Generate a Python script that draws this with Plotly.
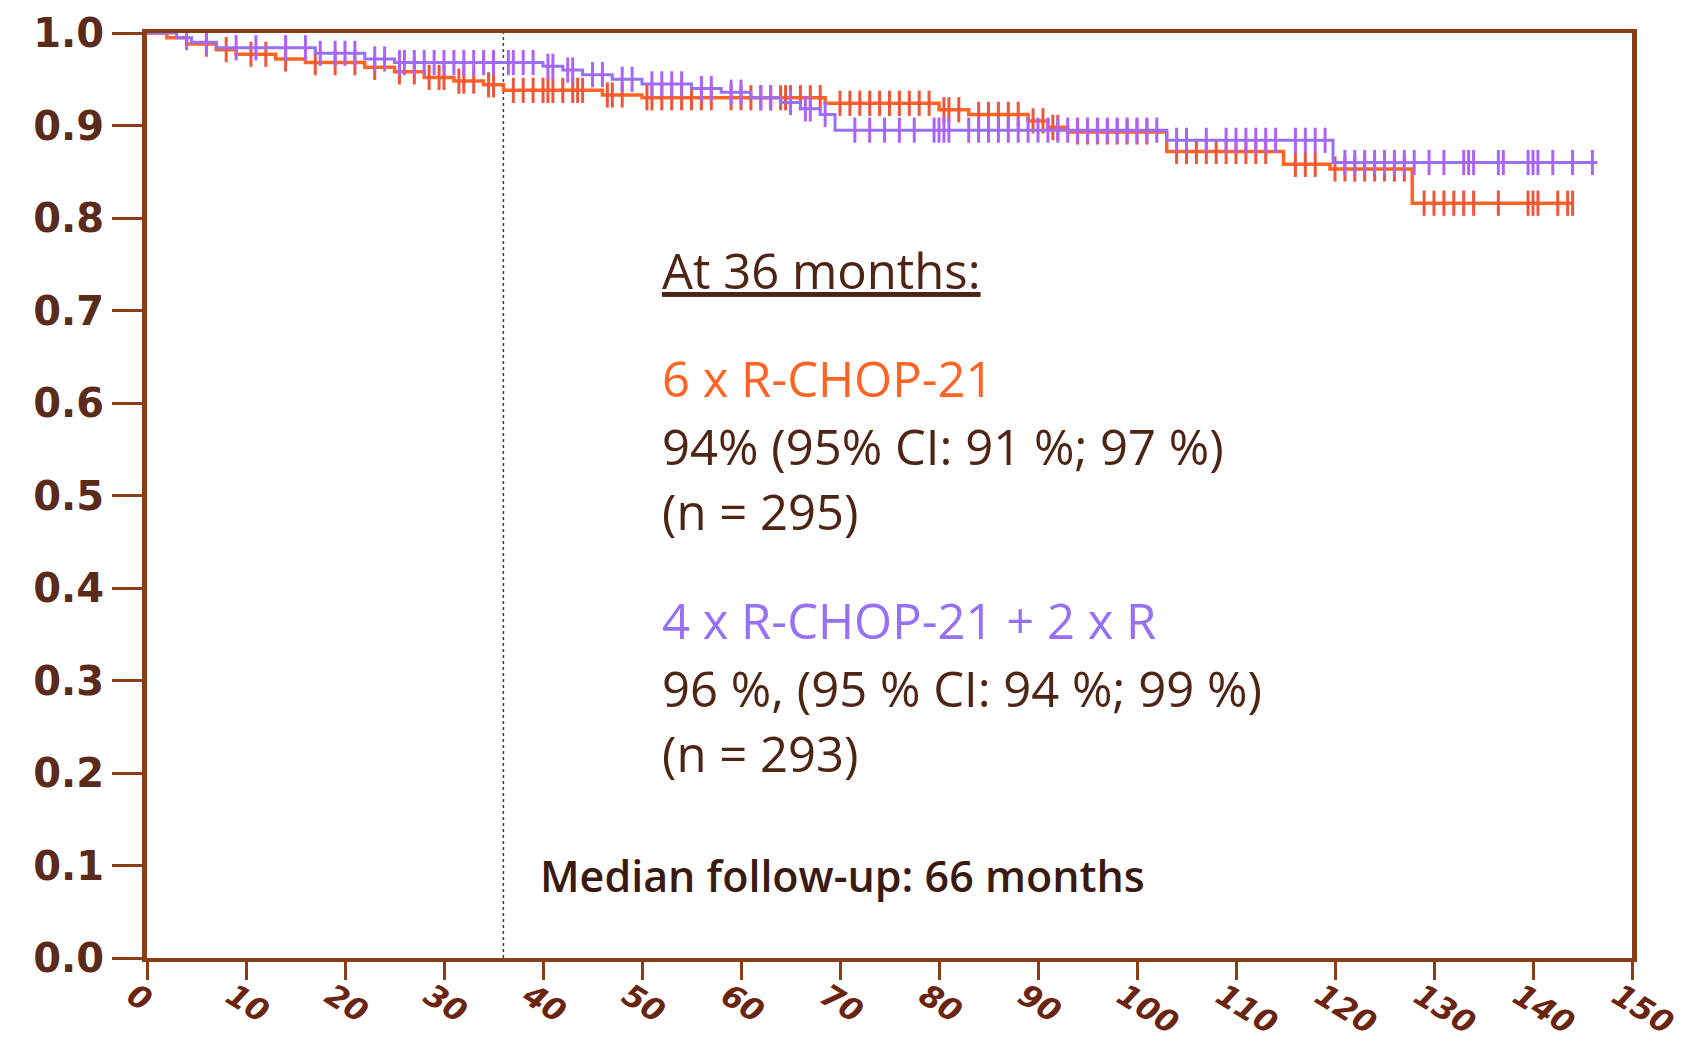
import numpy as np
import plotly.graph_objects as go

# ---------------- data ----------------
arm_a_name = "6 x R-CHOP-21"
arm_a_times = [0, 2, 4, 7, 9, 13, 16, 22, 25, 28, 31, 34, 36, 46, 50, 68.5, 80, 83, 89, 91, 93, 103, 114.8, 119.5, 127.8]
arm_a_surv = [1.0, 0.995, 0.988, 0.982, 0.977, 0.972, 0.968, 0.963, 0.958, 0.952, 0.948, 0.944, 0.938, 0.933, 0.930, 0.924, 0.917, 0.912, 0.905, 0.898, 0.893, 0.872, 0.858, 0.853, 0.816]
arm_a_end = 144
arm_a_censor = [6, 8, 10.5, 12, 14, 17, 19, 21, 23, 25.5, 27, 28.5, 29.5, 30, 31.5, 32, 33, 34.5, 35, 37, 38, 39, 40, 40.5, 41, 42, 43, 43.5, 44, 46.5,
                47, 48, 50.5, 51, 52, 53, 54, 55, 56, 57, 59, 60, 61, 62, 63, 64, 64.5, 65, 66, 67, 68, 70, 71, 72, 73, 74, 75, 76, 77, 78, 79,
                80.5, 81, 82, 84, 85, 86, 87, 88, 89.5, 90.5, 91.5, 92, 94, 95, 96, 97, 98, 99, 100, 101, 104, 105, 106, 107, 108, 109, 110,
                111, 112, 113, 116, 117, 118, 120, 121, 122, 123, 124, 125, 126, 127, 129, 130, 131, 132, 133, 134, 136.5, 139.5, 140, 140.5,
                142.5, 143.5, 144]

arm_b_name = "4 x R-CHOP-21 + 2 x R"
arm_b_times = [0, 3, 4.5, 7, 17, 22, 25, 40, 42, 44, 47, 50, 55, 58, 61, 64, 66, 68, 69.5, 103, 119.8]
arm_b_surv = [1.0, 0.995, 0.99, 0.984, 0.978, 0.972, 0.968, 0.964, 0.960, 0.955, 0.950, 0.945, 0.940, 0.936, 0.930, 0.925, 0.918, 0.912, 0.895, 0.884, 0.860]
arm_b_end = 146.5
arm_b_censor = [4, 6, 9, 11, 14, 16, 17.5, 19, 20, 21, 23, 24, 25.5, 26, 27, 28, 29, 30, 31, 32, 33, 34, 35, 36.5, 37, 38, 39, 40.5, 41, 42.5,
                43, 45, 46, 48, 49, 51, 52, 53, 54, 56, 57, 59, 60, 62, 63, 65, 66.5, 67, 68.5, 71.5, 73, 74.5, 76, 77.5, 79.5, 80, 80.5, 81,
                83, 84, 85, 86, 87, 88, 89, 90, 91, 92, 93, 94, 95, 96, 97, 98, 99, 100, 101, 102, 104, 105, 107, 109, 110, 111, 112, 113,
                114, 116, 117, 118, 119, 121, 122, 123, 124, 125, 126, 127, 128, 129.5, 131, 133, 133.5, 134, 136.5, 137, 139.5, 140,
                140.5, 142, 144, 146]

x_ticks = list(range(0, 151, 10))
y_ticks = [round(0.1 * i, 1) for i in range(11)]
followup_month = 36

# ---------------- styles ----------------
ORANGE = "#FF6424"
PURPLE = "#9670F5"
PURPLE_TICK = "#6E52D8"
ORANGE_TICK = "#F0521A"
AXIS = "#8A3E16"
TEXT = "#4E2414"
FONT = "Open Sans"


def step_xy(times, surv, end):
    return list(times) + [end], list(surv) + [surv[-1]]


def surv_at(times, surv, t):
    idx = np.searchsorted(np.asarray(times), np.asarray(t), side="right") - 1
    return np.asarray(surv)[idx]


fig = go.Figure()

for times, surv, end, censor, col, tcol, name, lw in [
    (arm_a_times, arm_a_surv, arm_a_end, arm_a_censor, ORANGE, ORANGE_TICK, arm_a_name, 3.5),
    (arm_b_times, arm_b_surv, arm_b_end, arm_b_censor, PURPLE, PURPLE_TICK, arm_b_name, 3),
]:
    sx, sy = step_xy(times, surv, end)
    fig.add_trace(go.Scatter(x=sx, y=sy, mode="lines", line=dict(color=col, width=lw, shape="hv"),
                             name=name, showlegend=False, hoverinfo="skip", cliponaxis=False))
    fig.add_trace(go.Scatter(x=censor, y=surv_at(times, surv, censor), mode="markers",
                             marker=dict(symbol="line-ns-open", size=18, line=dict(color=tcol, width=3)),
                             name=name + " censored", showlegend=False, hoverinfo="skip"))

# dotted vertical line at 36 months
fig.add_shape(type="line", x0=followup_month, x1=followup_month, y0=0, y1=1, xref="x", yref="y",
              line=dict(color="#34405A", width=1.5, dash="dot"), layer="below")

ann = [
    ("<u>At 36 months:</u>", 0.744, TEXT),
    (arm_a_name, 0.627, ORANGE),
    ("94% (95% CI: 91 %; 97 %)", 0.554, TEXT),
    ("(n = 295)", 0.483, TEXT),
    (arm_b_name, 0.365, PURPLE),
    ("96 %, (95 % CI: 94 %; 99 %)", 0.292, TEXT),
    ("(n = 293)", 0.222, TEXT),
]
for txt, yv, col in ann:
    fig.add_annotation(x=51.8, y=yv, xref="x", yref="y", text=txt, showarrow=False,
                       xanchor="left", yanchor="middle", font=dict(family=FONT, size=49, color=col))

fig.add_annotation(x=39.5, y=0.089, xref="x", yref="y", text="Median follow-up: 66 months", showarrow=False,
                   xanchor="left", yanchor="middle", font=dict(family=FONT, size=43, color="#3A1A10", weight=600))

fig.update_layout(
    width=1690, height=1044,
    margin=dict(l=139, r=66, t=25, b=94, autoexpand=False),
    paper_bgcolor="white", plot_bgcolor="white",
    showlegend=False,
)
fig.update_xaxes(range=[0, 150], tickvals=x_ticks, ticktext=[f"<i>{v}</i>" for v in x_ticks],
                 tickangle=32, ticks="outside", ticklen=18, tickwidth=3, tickcolor=AXIS,
                 showline=True, linecolor=AXIS, linewidth=4, mirror=True, showgrid=False, zeroline=False,
                 automargin=False, ticklabelshift=-14, ticklabelstandoff=-14,
                 tickfont=dict(family="DejaVu Sans", size=31, color="#6A2410", weight="bold"))
fig.update_yaxes(range=[0, 1.0], tickvals=y_ticks, ticktext=[f"{v:.1f}" for v in y_ticks],
                 ticks="outside", ticklen=30, tickwidth=3, tickcolor=AXIS,
                 showline=True, linecolor=AXIS, linewidth=5, mirror=True, showgrid=False, zeroline=False,
                 automargin=False,
                 tickfont=dict(family="DejaVu Sans", size=40, color="#5A2A1A", weight="bold"))

fig.write_html("out.html")
